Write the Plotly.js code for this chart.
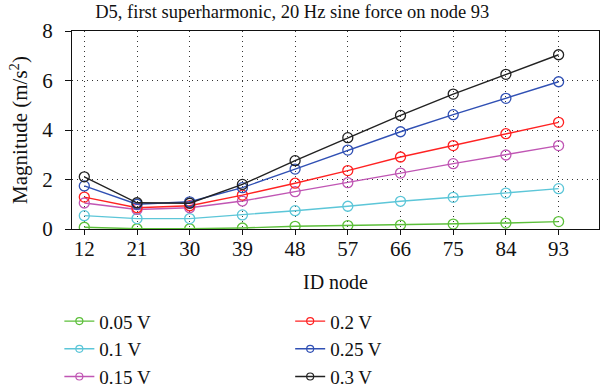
<!DOCTYPE html>
<html>
<head>
<meta charset="utf-8">
<script src="https://cdn.plot.ly/plotly-3.0.1.min.js"></script>
<style>html,body{margin:0;padding:0;background:#fff;}#chart{width:600px;height:391px;}</style>
</head>
<body>
<div id="chart"></div>
<script>
const nodes = [12, 21, 30, 39, 48, 57, 66, 75, 84, 93];
const seriesNames = ['0.05 V', '0.1 V', '0.15 V', '0.2 V', '0.25 V', '0.3 V'];
const v005 = [0.07, 0.01, 0.01, 0.04, 0.11, 0.14, 0.16, 0.20, 0.24, 0.30];
const v010 = [0.54, 0.42, 0.42, 0.57, 0.74, 0.92, 1.12, 1.28, 1.45, 1.63];
const v015 = [1.05, 0.79, 0.86, 1.13, 1.51, 1.87, 2.26, 2.64, 2.99, 3.37];
const v020 = [1.29, 0.86, 0.94, 1.37, 1.85, 2.36, 2.91, 3.37, 3.85, 4.31];
const v025 = [1.74, 1.00, 1.10, 1.67, 2.42, 3.19, 3.93, 4.62, 5.28, 5.95];
const v030 = [2.11, 1.06, 1.04, 1.80, 2.76, 3.69, 4.59, 5.45, 6.25, 7.04];
const yTicks = [0, 2, 4, 6, 8];

const values = [v005, v010, v015, v020, v025, v030];
const colors = ['#5cbf3a', '#5cc6d8', '#c056b4', '#ff2222', '#3050b4', '#222222'];
const legendIds = ['legend', 'legend', 'legend', 'legend2', 'legend2', 'legend2'];

const FONT = 'Liberation Serif, Times New Roman, serif';
const traces = [];
values.forEach((vals, i) => {
  traces.push({
    x: nodes, y: vals, type: 'scatter', mode: 'lines+markers',
    name: seriesNames[i], showlegend: false,
    line: {color: colors[i], width: 1.4},
    marker: {symbol: 'circle-open', size: 10, color: colors[i], line: {width: 1.3, color: colors[i]}}
  });
});
// legend entries (no data, smaller markers like the reference legend)
values.forEach((vals, i) => {
  traces.push({
    x: [null], y: [null], type: 'scatter', mode: 'lines+markers',
    name: seriesNames[i], legend: legendIds[i],
    line: {color: colors[i], width: 1.4},
    marker: {symbol: 'circle-open', size: 7, color: colors[i], line: {width: 1.2, color: colors[i]}}
  });
});

const legendCommon = {
  orientation: 'v', yanchor: 'top', xanchor: 'left', y: -0.37,
  font: {family: FONT, size: 19, color: '#111'}, bgcolor: 'rgba(0,0,0,0)',
  borderwidth: 0, tracegroupgap: 0, itemwidth: 30
};

const layout = {
  width: 600, height: 391,
  margin: {l: 71.5, r: 1, t: 31, b: 162, autoexpand: false},
  paper_bgcolor: '#fff', plot_bgcolor: '#fff',
  font: {family: FONT, color: '#111'},
  title: {text: 'D5, first superharmonic, 20 Hz sine force on node 93',
          font: {family: FONT, size: 18.5, color: '#111'},
          x: 0.418, xref: 'paper', xanchor: 'center', y: 0.97, yref: 'container', yanchor: 'middle'},
  xaxis: {
    range: [9.9, 99.9], tickmode: 'array', tickvals: nodes, ticktext: nodes.map(String),
    ticks: 'outside', ticklen: 5, tickcolor: '#111', tickwidth: 1, ticklabelstandoff: -4,
    showline: true, linecolor: '#111', linewidth: 1, mirror: true, automargin: false,
    showgrid: true, gridcolor: '#333', gridwidth: 1, griddash: '1px,4px',
    zeroline: false, tickfont: {family: FONT, size: 21, color: '#111'},
    title: {text: 'ID node', font: {family: FONT, size: 20, color: '#111'}, standoff: 14}
  },
  yaxis: {
    range: [0, 8], tickmode: 'array', tickvals: yTicks,
    ticks: 'outside', ticklen: 6, tickcolor: '#111', tickwidth: 1, ticklabelstandoff: 8,
    showline: true, linecolor: '#111', linewidth: 1, mirror: true, automargin: false,
    showgrid: true, gridcolor: '#333', gridwidth: 1, griddash: '1px,4px',
    zeroline: false, tickfont: {family: FONT, size: 21, color: '#111'},
    title: {text: 'Magnitude (m/s<sup>2</sup>)', font: {family: FONT, size: 21, color: '#111'}, standoff: 8}
  },
  legend: Object.assign({}, legendCommon, {x: -0.024}),
  legend2: Object.assign({}, legendCommon, {x: 0.414}),
  showlegend: true
};

Plotly.newPlot('chart', traces, layout, {displayModeBar: false, staticPlot: true});
</script>
</body>
</html>
